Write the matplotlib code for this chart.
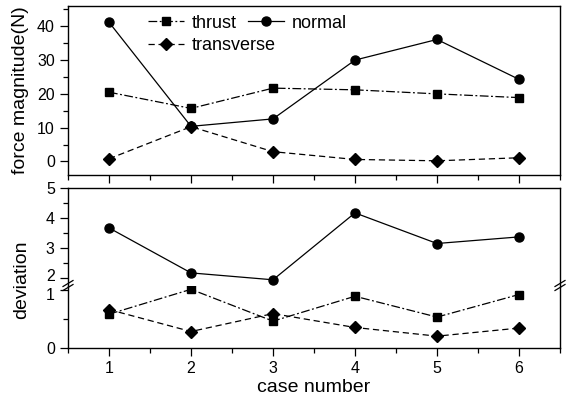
import matplotlib
matplotlib.use("Agg")
import matplotlib.pyplot as plt
import matplotlib.transforms as mtrans
from matplotlib.ticker import MultipleLocator

plt.rcParams['font.family'] = ['Liberation Sans', 'DejaVu Sans']

cases = [1, 2, 3, 4, 5, 6]
force_thrust = [20.5, 15.7, 21.7, 21.2, 20.0, 18.9]
force_normal = [41.2, 10.4, 12.6, 30.0, 36.1, 24.3]
force_transverse = [0.8, 10.3, 2.9, 0.6, 0.2, 1.1]

dev_thrust = [0.59, 1.02, 0.47, 0.90, 0.54, 0.93]
dev_normal = [3.67, 2.17, 1.94, 4.17, 3.15, 3.37]
dev_transverse = [0.67, 0.29, 0.60, 0.36, 0.21, 0.35]

W, H = 573, 395
fig = plt.figure(figsize=(W / 100, H / 100), dpi=100)

def rect(l, t, r, b):
    return [l / W, 1 - b / H, (r - l) / W, (b - t) / H]

ax1 = fig.add_axes(rect(68, 6, 560, 175))
ax2 = fig.add_axes(rect(68, 188, 560, 285.5))
ax3 = fig.add_axes(rect(68, 285.5, 560, 348.3))

st_thrust = dict(color='black', lw=0.9, linestyle=(0, (7, 2, 1.5, 2)), marker='s', ms=5.5)
st_normal = dict(color='black', lw=0.9, linestyle='-', marker='o', ms=6.5)
st_trans = dict(color='black', lw=0.9, linestyle=(0, (5, 3)), marker='D', ms=6)

h1, = ax1.plot(cases, force_thrust, label='thrust', **st_thrust)
h2, = ax1.plot(cases, force_normal, label='normal', **st_normal)
h3, = ax1.plot(cases, force_transverse, label='transverse', **st_trans)

ax2.plot(cases, dev_normal, **st_normal)
ax3.plot(cases, dev_thrust, **st_thrust)
ax3.plot(cases, dev_transverse, **st_trans)

for ax in (ax1, ax2, ax3):
    ax.set_xlim(0.5, 6.5)
    ax.xaxis.set_major_locator(MultipleLocator(1))
    ax.xaxis.set_minor_locator(MultipleLocator(0.5))
    ax.tick_params(which='both', direction='out', top=False, right=False, labelsize=11.5, width=0.9)
    ax.tick_params(which='major', length=6)
    ax.tick_params(which='minor', length=3.5)
    for s in ax.spines.values():
        s.set_linewidth(1.0)

ax1.set_ylim(-4, 46)
ax1.yaxis.set_major_locator(MultipleLocator(10))
ax1.yaxis.set_minor_locator(MultipleLocator(5))
ax1.tick_params(axis='x', labelbottom=False)
ax1.set_ylabel('force magnitude(N)', fontsize=14, labelpad=6)

ax2.set_ylim(1.75, 5)
ax2.yaxis.set_major_locator(MultipleLocator(1))
ax2.yaxis.set_minor_locator(MultipleLocator(0.5))
ax2.spines['bottom'].set_visible(False)
ax2.tick_params(axis='x', which='both', bottom=False, labelbottom=False)

ax3.set_ylim(0, 1.086)
ax3.yaxis.set_major_locator(MultipleLocator(1))
ax3.yaxis.set_minor_locator(MultipleLocator(0.5))
ax3.spines['top'].set_visible(False)
ax3.set_xlabel('case number', fontsize=14, labelpad=2)

fig.canvas.draw()
# nudge the crowded labels at the break apart slightly
for lab in ax2.get_yticklabels():
    if lab.get_text() == '2':
        lab.set_transform(lab.get_transform() + mtrans.ScaledTranslation(0, 2.5 / 72, fig.dpi_scale_trans))
for lab in ax3.get_yticklabels():
    if lab.get_text() == '1':
        lab.set_transform(lab.get_transform() + mtrans.ScaledTranslation(0, -2.5 / 72, fig.dpi_scale_trans))

fig.text(22 / W, 1 - 280 / H, 'deviation', rotation=90, fontsize=14, ha='center', va='center')

# break marks
for xp in (68, 560):
    for dy in (-2, 2):
        fig.add_artist(plt.Line2D([(xp - 5) / W, (xp + 5) / W],
                                  [1 - (285.5 + dy + 3) / H, 1 - (285.5 + dy - 3) / H],
                                  color='black', lw=0.9, transform=fig.transFigure))

leg_kw = dict(loc='upper left', frameon=False, fontsize=13, handlelength=2.0,
              handletextpad=0.45, labelspacing=0.3, borderaxespad=0.2)
leg1 = ax1.legend(handles=[h1, h3], bbox_to_anchor=((137 - 68) / 492, 1.012), **leg_kw)
ax1.add_artist(leg1)
ax1.legend(handles=[h2], bbox_to_anchor=((237 - 68) / 492, 1.012), **leg_kw)

fig.savefig('out.png', dpi=100)
